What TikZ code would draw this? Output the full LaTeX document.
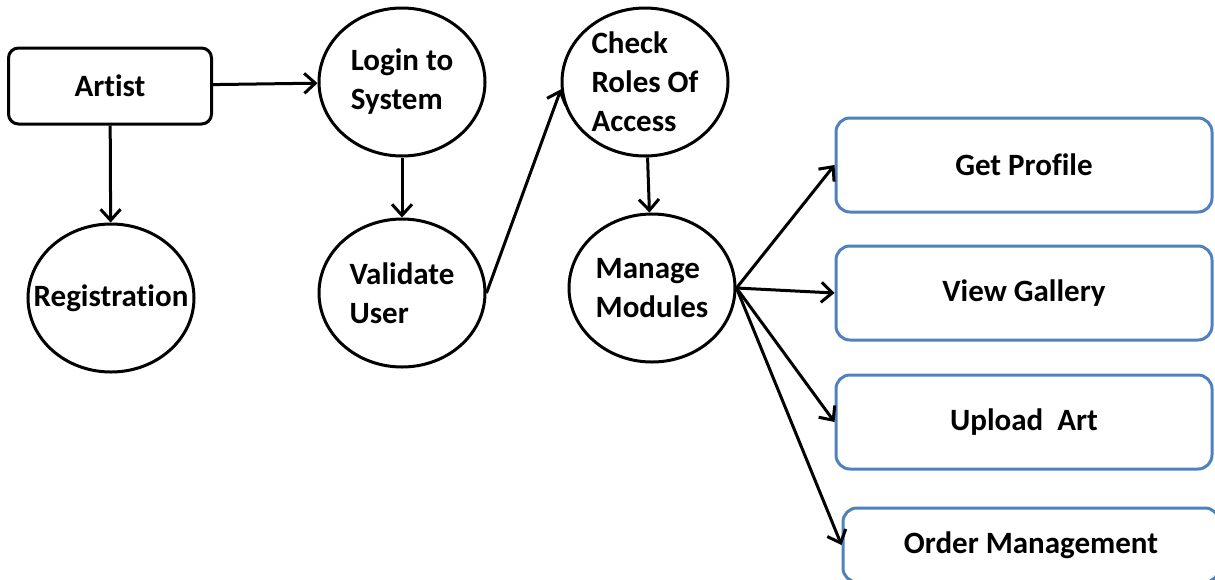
\documentclass[tikz,border=0pt]{standalone}
\usepackage{fontspec}
\setmainfont{Carlito}[Ligatures=NoCommon]
\usetikzlibrary{shapes.geometric,arrows.meta}
\definecolor{modblue}{HTML}{4F81BD}

\begin{document}
\begin{tikzpicture}[x=1pt,y=-1pt,line width=3pt,
    >={Straight Barb[length=11pt,width=20pt]},
    font=\fontsize{31}{39}\selectfont\bfseries,
    actor/.style={draw,rounded corners=10pt,minimum width=203pt,minimum height=76pt},
    proc/.style={ellipse,draw,inner sep=0pt,minimum width=166pt,minimum height=148pt,align=left},
    module/.style={draw=modblue,rounded corners=14pt,minimum width=376pt,minimum height=94pt}]
  \useasboundingbox (0,0) rectangle (1215,579);
  % artist side
  \node[actor] (artist) at (110,86) {Artist};
  \node[proc,label=center:Registration] (reg) at (111,298) {};
  % login flow
  \node[proc] (login) at (402,82) {Login to\\System};
  \node[proc] (valid) at (402,293) {Validate\\User};
  \node[proc] (check) at (645,82) {Check\\Roles Of\\Access};
  \node[proc] (manage) at (652,288) {Manage\\Modules};
  % modules
  \node[module] (profile) at (1024,165) {Get Profile};
  \node[module] (gallery) at (1024,293) {View Gallery};
  \node[module] (upload) at (1024,422) {Upload\ \ Art};
  \node[module,minimum height=74pt] (order) at (1031,545) {Order Management};
  \path[->] (artist) edge (login);
  \path[->] (artist) edge (reg);
  \path[->] (login) edge (valid);
  \path[->] (valid.east) edge (check.185);
  \path[->] (check) edge (manage);
  \path[->] (manage.east) edge (profile.west);
  \path[->] (manage.east) edge (gallery.west);
  \path[->] (manage.east) edge (upload.west);
  \path[->] (manage.east) edge (order.west);
\end{tikzpicture}
\end{document}
